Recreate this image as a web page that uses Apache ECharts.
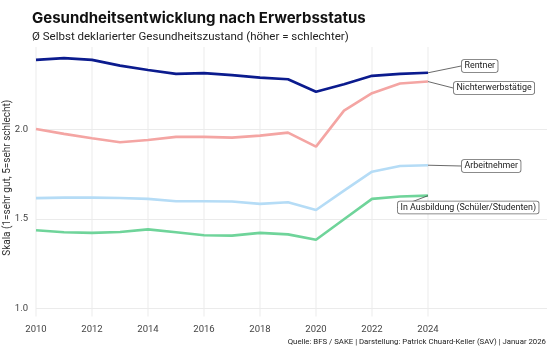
<!DOCTYPE html>
<html><head><meta charset="utf-8">
<script src="https://cdn.jsdelivr.net/npm/echarts@6/dist/echarts.min.js"></script>
<style>html,body{margin:0;padding:0;background:#fff}#c{width:549px;height:350px}</style>
</head><body><div id="c"></div>
<script>
const years = [2010,2011,2012,2013,2014,2015,2016,2017,2018,2019,2020,2021,2022,2023,2024];
const rentner = [2.388,2.398,2.388,2.356,2.332,2.310,2.314,2.303,2.289,2.280,2.210,2.252,2.299,2.310,2.316];
const nichterwerbstaetige = [2.002,1.975,1.951,1.928,1.941,1.958,1.958,1.954,1.965,1.982,1.904,2.105,2.202,2.256,2.267];
const arbeitnehmer = [1.616,1.619,1.619,1.617,1.612,1.599,1.599,1.597,1.584,1.593,1.550,1.658,1.764,1.796,1.800];
const ausbildung = [1.437,1.426,1.422,1.427,1.442,1.426,1.409,1.407,1.422,1.414,1.384,1.498,1.612,1.625,1.630];
const xTicks = [2010,2012,2014,2016,2018,2020,2022,2024];
const yTicks = [1.0,1.5,2.0];
const seriesNames = ['Rentner','Nichterwerbstätige','Arbeitnehmer','In Ausbildung (Schüler/Studenten)'];

const FONT_T = 'Inter, "Noto Sans", sans-serif';
const FONT = 'Roboto, "Noto Sans", sans-serif';
const colors = ['#0b1b8e','#f4a5a3','#b5dcf6','#6fd49a'];
const labelPos = [[462,66],[454,88],[462,166],[398,207.5]];
const values = [rentner, nichterwerbstaetige, arbeitnehmer, ausbildung];

function buildData(vals){
  return vals.map((v,i)=>{
    const d = {value:[years[i], v]};
    if(i === vals.length-1) d.label = {show:true};
    return d;
  });
}

const series = values.map((vals, k)=>({
  name: seriesNames[k],
  type: 'line',
  data: buildData(vals),
  symbol: 'circle',
  symbolSize: 0,
  showSymbol: true,
  lineStyle: {color: colors[k], width: 2.6},
  itemStyle: {color: colors[k]},
  z: 3,
  label: {
    show: false,
    formatter: seriesNames[k],
    fontFamily: FONT, fontSize: 8.9, color: '#1a1a1a',
    backgroundColor: '#fff', borderColor: '#666', borderWidth: 0.8, borderRadius: 2,
    padding: [2,2.5,1,2.5]
  },
  labelLine: {show: true, lineStyle: {color: '#444', width: 0.8}},
  labelLayout: function(p){
    return {x: labelPos[k][0], y: labelPos[k][1], align: 'left', verticalAlign: 'middle'};
  },
  emphasis: {disabled: true},
  animation: false
}));

// vertical grid lines at the x tick years
series.unshift({
  type: 'custom',
  data: xTicks.map(t=>[t]),
  encode: {x: 0},
  silent: true,
  z: 1,
  animation: false,
  renderItem: function(params, api){
    const cs = params.coordSys;
    const x = api.coord([api.value(0), 1])[0];
    return {
      type: 'line',
      shape: {x1: x, y1: cs.y, x2: x, y2: cs.y + cs.height + 8},
      style: {stroke: '#ebebeb', lineWidth: 1}
    };
  }
});

const chart = echarts.init(document.getElementById('c'), null, {renderer: 'canvas'});
chart.setOption({
  animation: false,
  backgroundColor: '#fff',
  title: {
    text: 'Gesundheitsentwicklung nach Erwerbsstatus',
    subtext: 'Ø Selbst deklarierter Gesundheitszustand (höher = schlechter)',
    left: 27, top: 6, itemGap: 5,
    textStyle: {fontFamily: FONT_T, fontSize: 15, fontWeight: 'bold', color: '#111'},
    subtextStyle: {fontFamily: FONT, fontSize: 11.5, color: '#222'}
  },
  grid: {left: 36, right: 2, top: 47, bottom: 41.5, containLabel: false, outerBoundsMode: 'none'},
  xAxis: {
    type: 'value', min: 2010, max: 2028.25, interval: 2,
    axisLine: {show: false}, axisTick: {show: false},
    splitLine: {show: false},
    axisLabel: {
      fontFamily: FONT, fontSize: 9.5, color: '#444', margin: 16,
      showMaxLabel: false,
      formatter: v => (xTicks.indexOf(v) >= 0 ? String(v) : '')
    }
  },
  yAxis: {
    type: 'value', min: 1, max: 2.46, interval: 0.5,
    name: 'Skala (1=sehr gut, 5=sehr schlecht)',
    nameLocation: 'middle', nameGap: 24, nameRotate: 90, nameMoveOverlap: false,
    nameTextStyle: {fontFamily: FONT, fontSize: 10, color: '#333'},
    axisLine: {show: false}, axisTick: {show: false},
    splitLine: {show: true, showMaxLine: false, lineStyle: {color: '#ebebeb', width: 1}},
    axisLabel: {
      fontFamily: FONT, fontSize: 9.5, color: '#444', margin: 8,
      showMaxLabel: false,
      formatter: v => (yTicks.indexOf(+v.toFixed(2)) >= 0 ? v.toFixed(1) : '')
    }
  },
  graphic: [{
    type: 'text', right: 3, top: 338,
    style: {text: 'Quelle: BFS / SAKE | Darstellung: Patrick Chuard-Keller (SAV) | Januar 2026',
      font: '7.8px ' + FONT, fill: '#222'}
  }],
  series: series
});
</script></body></html>
